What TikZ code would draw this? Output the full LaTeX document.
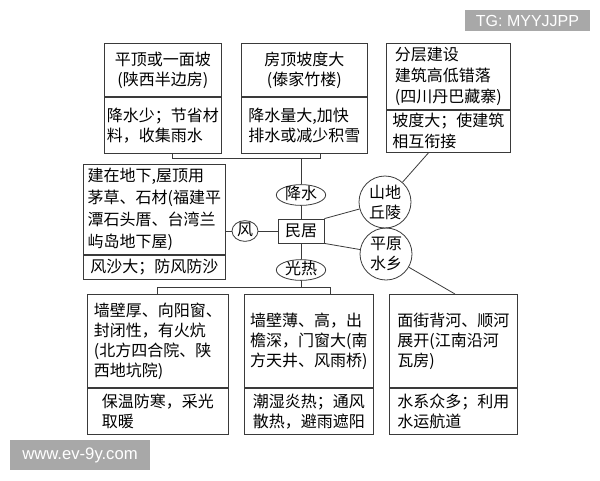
\documentclass[tikz,border=0pt]{standalone}
\usepackage{fontspec}
\newfontfamily\cjk{Noto Sans CJK SC}
\newfontfamily\wmfont{Liberation Sans}
\usetikzlibrary{shapes.geometric}
\definecolor{linegray}{HTML}{3A3A3A}
\definecolor{wmgray}{HTML}{A8A8A8}

\begin{document}
\begin{tikzpicture}[x=0.75pt, y=-0.75pt]
    \useasboundingbox (0,0) rectangle (600,480);
    \tikzset{BoxStyle/.style={draw=linegray, line width=0.6pt, inner sep=1pt, align=left,
        font=\cjk\fontsize{12pt}{15pt}\selectfont}}
    \tikzset{TopStyle/.style={BoxStyle, anchor=north west}}
    \tikzset{BotStyle/.style={BoxStyle, anchor=north}}
    \tikzset{TagStyle/.style={ellipse, draw=linegray, line width=0.6pt, inner sep=0pt,
        text height=9pt, text depth=2pt, font=\cjk\fontsize{12pt}{15pt}\selectfont}}
    \tikzset{RoundStyle/.style={circle, draw=linegray, line width=0.6pt, inner sep=0pt,
        minimum size=39pt, align=center, font=\cjk\fontsize{12pt}{15pt}\selectfont}}
    \tikzset{EdgeStyle/.style={draw=linegray, line width=0.6pt}}
    \tikzset{MarkBox/.style={fill=wmgray, text=white, inner sep=0pt,
        font=\wmfont\fontsize{12pt}{14pt}\selectfont}}

    % upper row
    \node[TopStyle, align=center, minimum width=87.75pt, minimum height=39.75pt] (flatT) at (104,43) {平顶或一面坡\\(陕西半边房)};
    \node[BotStyle, minimum width=87.75pt, minimum height=42pt] (flatB) at (flatT.south) {降水少；节省材\\料，收集雨水};
    \node[TopStyle, align=center, minimum width=94.5pt, minimum height=39.75pt] (steepT) at (241,43) {房顶坡度大\\(傣家竹楼)};
    \node[BotStyle, minimum width=94.5pt, minimum height=42pt] (steepB) at (steepT.south) {降水量大,加快\\排水或减少积雪};
    \node[TopStyle, minimum width=93pt, minimum height=49.5pt, font=\cjk\fontsize{12pt}{16pt}\selectfont] (hillT) at (386,43) {分层建设\\建筑高低错落\\(四川丹巴藏寨)};
    \node[BotStyle, minimum width=93pt, minimum height=31.5pt, font=\cjk\fontsize{12pt}{16pt}\selectfont] (hillB) at (hillT.south) {坡度大；使建筑\\相互衔接};

    % middle
    \node[TopStyle, minimum width=106.5pt, minimum height=67.5pt, font=\cjk\fontsize{12pt}{16.5pt}\selectfont] (windT) at (83,164) {建在地下,屋顶用\\茅草、石材(福建平\\潭石头厝、台湾兰\\屿岛地下屋)};
    \node[BotStyle, minimum width=106.5pt, minimum height=18pt] (windB) at (windT.south) {风沙大；防风防沙};

    \node[BoxStyle, inner sep=0pt, minimum width=34.5pt, minimum height=18pt] (home) at (301,231) {民居};
    \node[TagStyle, minimum width=37pt] (rain) at (301,195) {降水};
    \node[TagStyle, minimum width=37pt] (heat) at (301,270) {光热};
    \node[TagStyle, minimum width=19.5pt] (wind) at (245,231) {风};
    \node[RoundStyle] (hill) at (385,202) {山地\\丘陵};
    \node[RoundStyle] (plain) at (386,254) {平原\\水乡};

    % lower row
    \node[TopStyle, minimum width=105.75pt, minimum height=69.75pt] (coldT) at (87,294) {墙壁厚、向阳窗、\\封闭性，有火炕\\(北方四合院、陕\\西地坑院)};
    \node[BotStyle, minimum width=105.75pt, minimum height=34.5pt] (coldB) at (coldT.south) {保温防寒，采光\\取暖};
    \node[TopStyle, minimum width=96.75pt, minimum height=69.75pt] (hotT) at (244,294) {墙壁薄、高，出\\檐深，门窗大(南\\方天井、风雨桥)};
    \node[BotStyle, minimum width=96.75pt, minimum height=34.5pt] (hotB) at (hotT.south) {潮湿炎热；通风\\散热，避雨遮阳};
    \node[TopStyle, minimum width=96pt, minimum height=69.75pt] (waterT) at (389,294) {面街背河、顺河\\展开(江南沿河\\瓦房)};
    \node[BotStyle, minimum width=96pt, minimum height=34.5pt] (waterB) at (waterT.south) {水系众多；利用\\水运航道};

    \coordinate (tl) at (172,158);
    \coordinate (tm) at (301,158);
    \coordinate (tr) at (320,158);
    \coordinate (bl) at (157,287);
    \coordinate (bm) at (301,287);
    \coordinate (br) at (330,287);

    \draw[EdgeStyle] (flatB.south -| tl) -- (tl) -- (tr) -- (steepB.south -| tr);
    \draw[EdgeStyle] (tm) -- (rain);
    \draw[EdgeStyle] (rain) -- (home);
    \draw[EdgeStyle] (home) -- (heat);
    \draw[EdgeStyle] (heat) -- (bm);
    \draw[EdgeStyle] (coldT.north -| bl) -- (bl) -- (br) -- (hotT.north -| br);
    \draw[EdgeStyle] (home) -- (wind);
    \draw[EdgeStyle] (wind) -- (windT.east |- wind);
    \draw[EdgeStyle] (home.north east) -- (hill);
    \draw[EdgeStyle] (home.south east) -- (plain);
    \draw[EdgeStyle] (hill) -- ([xshift=32pt]hillB.south west);
    \draw[EdgeStyle] (plain) -- ([xshift=49.5pt]waterT.north west);

    \node[MarkBox, minimum width=93.75pt, minimum height=15.75pt] (tg) at (527.5,20.5) {TG: MYYJJPP};
    \node[MarkBox, minimum width=105pt, minimum height=22.5pt, font=\wmfont\fontsize{12.5pt}{14pt}\selectfont] (site) at (80,455) {www.ev-9y.com};
\end{tikzpicture}
\end{document}
